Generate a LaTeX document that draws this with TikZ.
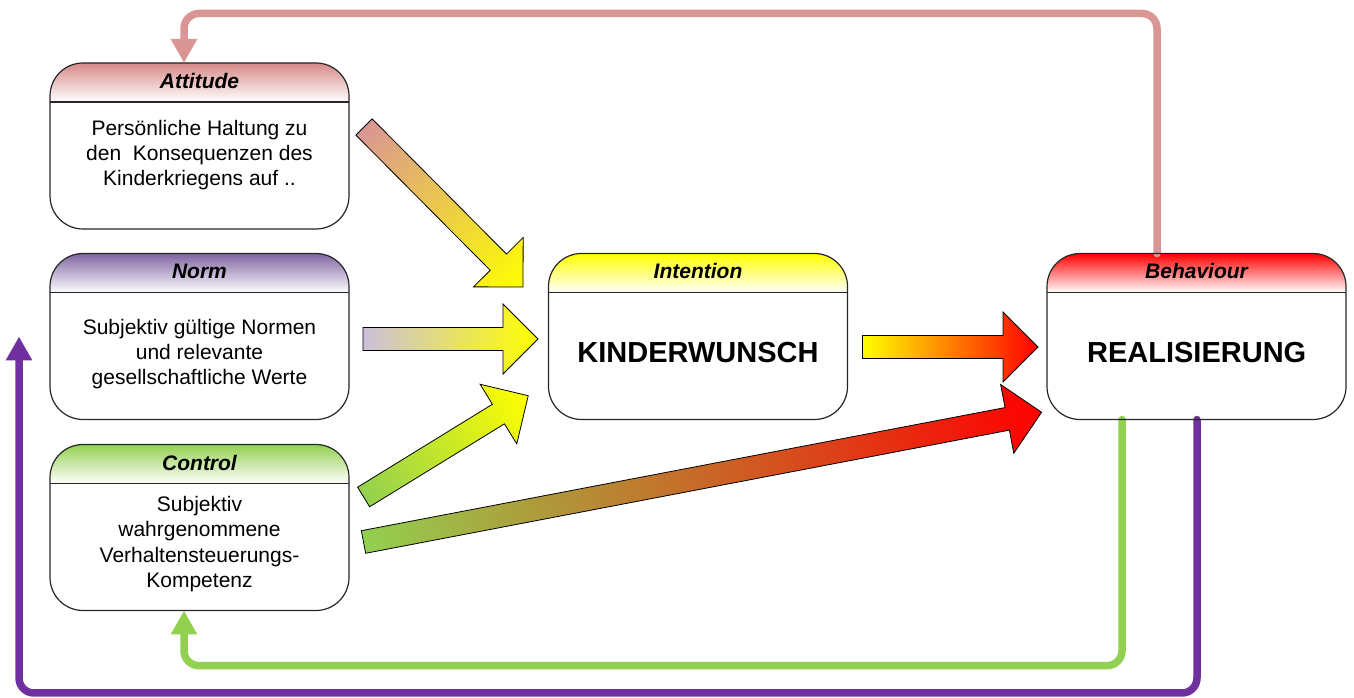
\documentclass[tikz,border=0pt]{standalone}
\usepackage{fontspec}
\setmainfont{Liberation Sans}
\usetikzlibrary{arrows.meta,calc}
\definecolor{cpink}{RGB}{217,150,148}
\definecolor{cpurp}{RGB}{112,48,160}
\definecolor{cgreen}{RGB}{146,208,80}
\definecolor{clav}{RGB}{204,192,218}
\definecolor{cnorm}{RGB}{128,100,162}
\definecolor{cyel}{RGB}{255,255,0}
\definecolor{cred}{RGB}{255,0,0}
\definecolor{catt}{RGB}{214,138,136}
\newcommand\blockarr[5]{%
  \begin{scope}[transform canvas={shift={(#1)},rotate=#2}]
    \shade[left color=#4,right color=#5,draw=black,line width=0.8pt,line join=miter]
      (0,-11.5) -- ({#3-35},-11.5) -- ({#3-35},-35) -- (#3,0) -- ({#3-35},35) -- ({#3-35},11.5) -- (0,11.5) -- cycle;
  \end{scope}}
\newcommand\hdrshade[2]{%
  \begin{scope}
    \clip[rounded corners=33pt] (#1.south west) rectangle (#1.north east);
    \shade[top color=#2, bottom color=white]
      ([yshift=-39pt]#1.north west) rectangle (#1.north east);
  \end{scope}}
\tikzset{
  dbox/.style={line width=1.2pt, rounded corners=33pt, minimum width=299pt,
    minimum height=166pt, inner sep=0pt, outer sep=0pt, fill=white},
  dborder/.style={draw=black!85, line width=1.2pt, rounded corners=33pt},
  dhdr/.style={font=\fontsize{21}{25}\selectfont\bfseries\itshape, inner sep=0pt},
  dbody/.style={font=\fontsize{21}{25.3}\selectfont, align=center, inner sep=0pt},
  dbig/.style={font=\fontsize{29}{34}\selectfont\bfseries, inner sep=0pt},
  dfb/.style={line width=7.5pt, rounded corners=15pt, line cap=round, -{Triangle[width=25pt,length=24pt]}},
}
\begin{document}
\begin{tikzpicture}[x=1pt,y=1pt]
\useasboundingbox (0,0) rectangle (1354,698);
% boxes
\node[dbox] (att) at (199.5,552) {};
\node[dbox] (nrm) at (199.5,361.5) {};
\node[dbox] (ctl) at (199.5,170.5) {};
\node[dbox] (int) at (698,361.5) {};
\node[dbox] (beh) at (1196.5,361.5) {};
\hdrshade{att}{catt}
\hdrshade{nrm}{cnorm}
\hdrshade{ctl}{cgreen}
\hdrshade{int}{cyel}
\hdrshade{beh}{cred}
% feedback connectors
\draw[dfb, draw=cpink] ([xshift=-39.5pt]beh.north) -- ++(0,240) -| ([xshift=-15.5pt]att.north);
\draw[dfb, draw=cgreen] ([xshift=-74.5pt]beh.south) -- ++(0,-246.2) -| ([xshift=-15.5pt]ctl.south);
\draw[dfb, draw=cpurp] ([xshift=0.5pt]beh.south) -- ++(0,-273.5) -| ([xshift=-31pt]nrm.west);
% header separators and borders
\foreach \n in {att,nrm,ctl,int,beh}{
  \draw[black!85,line width=1.2pt] ([yshift=-39pt]\n.north west) -- ([yshift=-39pt]\n.north east);
  \draw[dborder] (\n.south west) rectangle (\n.north east);
}
% headers
\node[dhdr] at ([yshift=-18pt]att.north) {Attitude};
\node[dhdr] at ([yshift=-18pt]nrm.north) {Norm};
\node[dhdr] at ([yshift=-18pt]ctl.north) {Control};
\node[dhdr] at ([yshift=-18pt]int.north) {Intention};
\node[dhdr] at ([yshift=-18pt]beh.north) {Behaviour};
% bodies
\node[dbody] (attt) at (199.5,543) {Persönliche Haltung zu\\den~ Konsequenzen des\\Kinderkriegens auf ..};
\node[dbody] (nrmt) at (199.5,344) {Subjektiv gültige Normen\\und relevante\\gesellschaftliche Werte};
\node[dbody] (ctlt) at (199.5,154) {Subjektiv\\wahrgenommene\\Verhaltensteuerungs-\\Kompetenz};
\node[dbig] (intt) at (698,345) {KINDERWUNSCH};
\node[dbig] (beht) at (1196.7,345.5) {REALISIERUNG};
% block arrows
\coordinate (a1s) at (364,571);   \coordinate (a1e) at (523,411);
\coordinate (a2s) at (363,359);   \coordinate (a2e) at (538,359);
\coordinate (a3s) at (363.6,201); \coordinate (a3e) at (528.2,302.3);
\coordinate (a4s) at (862.5,351); \coordinate (a4e) at (1038,351);
\coordinate (a5s) at (363.5,156); \coordinate (a5e) at (1041.6,285.7);
\blockarr{a1s}{-45.18}{225.6}{cpink}{cyel}
\blockarr{a2s}{0}{175}{clav}{cyel}
\blockarr{a3s}{31.6}{193.3}{cgreen}{cyel}
\blockarr{a4s}{0}{175.5}{cyel}{cred}
\blockarr{a5s}{10.83}{690.4}{cgreen}{cred}
\end{tikzpicture}
\end{document}
